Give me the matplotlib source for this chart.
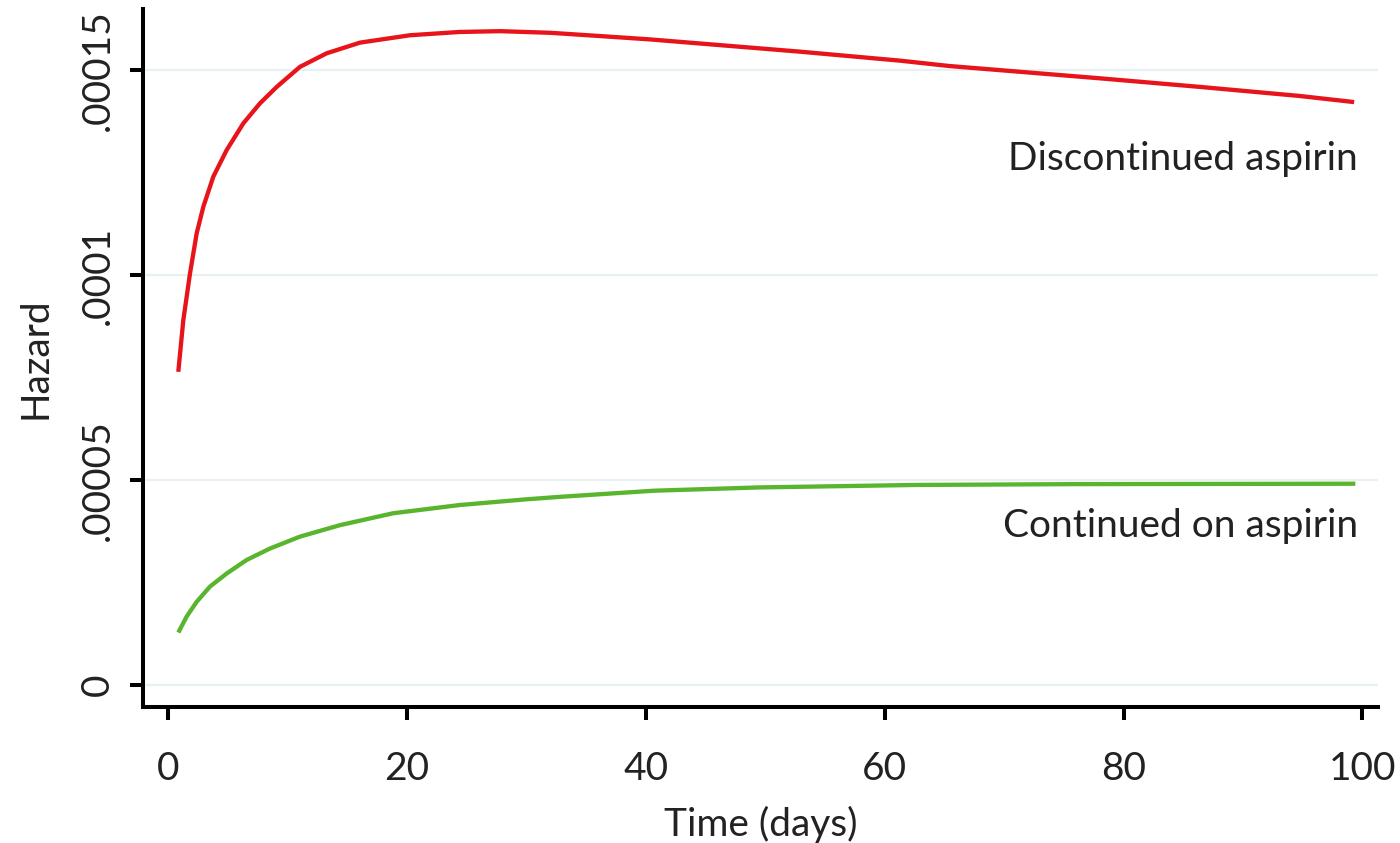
import numpy as np
import matplotlib as mpl
mpl.use('Agg')
import matplotlib.pyplot as plt

mpl.rcParams['font.family'] = ['Lato', 'DejaVu Sans']

# values
days_red = [0.86, 1.28, 1.84, 2.40, 2.96, 3.79, 4.91, 6.30, 7.70, 9.10, 11.05,
            13.28, 16.07, 20.25, 24.4, 27.8, 32.0, 36.2, 40.3, 44.5, 48.7, 52.9,
            57.1, 61.3, 65.4, 69.6, 78.0, 86.4, 94.7, 99.3]
haz_red = [7.64e-5, 8.90e-5, 1.004e-4, 1.102e-4, 1.167e-4, 1.240e-4, 1.305e-4,
           1.370e-4, 1.419e-4, 1.459e-4, 1.508e-4, 1.541e-4, 1.567e-4, 1.585e-4,
           1.593e-4, 1.595e-4, 1.591e-4, 1.583e-4, 1.575e-4, 1.565e-4, 1.555e-4,
           1.545e-4, 1.534e-4, 1.523e-4, 1.510e-4, 1.500e-4, 1.480e-4, 1.459e-4,
           1.437e-4, 1.422e-4]

days_green = [0.86, 1.56, 2.40, 3.51, 4.91, 6.58, 8.54, 11.05, 14.4, 18.85,
              24.4, 30.0, 32.8, 40.7, 49.5, 62.6, 75.7, 99.4]
haz_green = [1.28e-5, 1.67e-5, 2.03e-5, 2.40e-5, 2.72e-5, 3.05e-5, 3.33e-5,
             3.62e-5, 3.90e-5, 4.19e-5, 4.39e-5, 4.53e-5, 4.59e-5, 4.74e-5,
             4.82e-5, 4.88e-5, 4.90e-5, 4.91e-5]

xticks = [0, 20, 40, 60, 80, 100]
yticks = [0, 0.00005, 0.0001, 0.00015]
ylabels = ['0', '.00005', '.0001', '.00015']

fig = plt.figure(figsize=(14, 8.43), dpi=100)
ax = fig.add_axes([0.1021, 0.1613, 0.8822, 0.828])

for y in yticks:
    ax.axhline(y, color='#e8f0f2', lw=1.6, zorder=0)

ax.plot(days_red, haz_red, color='#e8141b', lw=3.1, solid_capstyle='butt')
ax.plot(days_green, haz_green, color='#5ab52e', lw=3.1, solid_capstyle='butt')

ax.text(99.6, 0.0001256, 'Discontinued aspirin', ha='right', va='baseline',
        fontsize=28, color='#222222')
ax.text(99.6, 0.0000361, 'Continued on aspirin', ha='right', va='baseline',
        fontsize=28, color='#222222')

ax.set_xlim(-2.1, 101.3)
ax.set_ylim(-0.00000537, 0.0001649)
ax.set_xticks(xticks)
ax.set_yticks(yticks)
ax.set_yticklabels(ylabels, rotation=90, va='center')

ax.spines['top'].set_visible(False)
ax.spines['right'].set_visible(False)
for s in ['left', 'bottom']:
    ax.spines[s].set_linewidth(2.9)
    ax.spines[s].set_color('black')
ax.tick_params(axis='both', direction='out', length=9.5, width=2.9,
               labelsize=28, labelcolor='#222222')
ax.tick_params(axis='x', pad=22)
ax.tick_params(axis='y', pad=10)

ax.set_xlabel('Time (days)', fontsize=28, color='#222222', labelpad=14)
ax.set_ylabel('Hazard', fontsize=28, color='#222222', labelpad=19)

plt.savefig('out.png', dpi=100)
